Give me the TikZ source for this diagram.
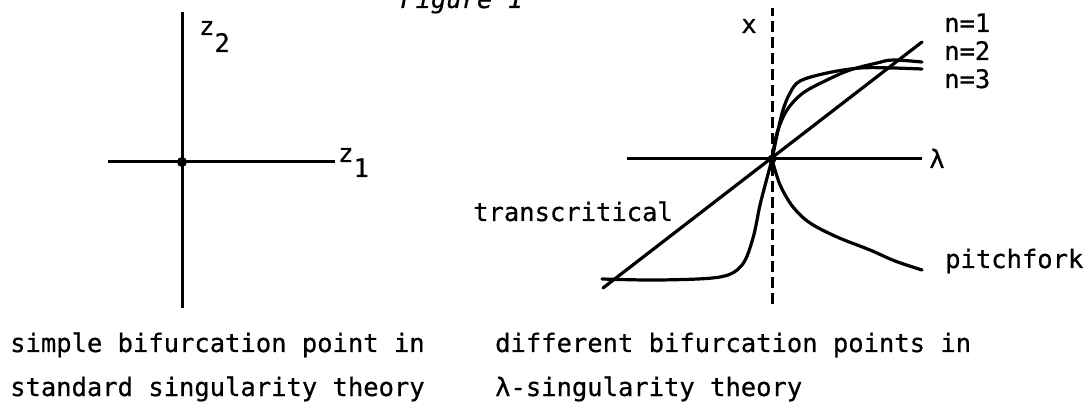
\documentclass[tikz,border=0pt]{standalone}
\usepackage{fontspec}
\newfontfamily\tw[FakeBold=0.6]{DejaVu Sans Mono}
\begin{document}
\begin{tikzpicture}[x=1pt,y=-1pt,
  ax/.style={line width=3pt},
  crv/.style={line width=3.2pt, line cap=round, line join=round},
  lbl/.style={font=\tw\fontsize{25.5}{30}\selectfont, inner sep=0pt},
  ]
\path[use as bounding box] (0,0) rectangle (1087,403);
\clip (0,0) rectangle (1087,403);
\node[lbl, anchor=base west, font=\tw\itshape\fontsize{25.5}{30}\selectfont] (fig) at (400,8) {Figure 1};
% left diagram
\coordinate (O1) at (182,162);
\coordinate (vt) at (182,12);
\coordinate (vb) at (182,308);
\coordinate (hl) at (108,162);
\coordinate (hr) at (335,162);
\draw[ax] (vb) -- (vt);
\draw[ax] (hl) -- (hr);
\fill (O1) circle (5);
\node[lbl, anchor=base west] (z2) at (199,35) {z\raisebox{-17pt}{2}};
\node[lbl, anchor=base west] (z1) at (338,162) {z\raisebox{-15pt}{1}};
% right diagram
\coordinate (O2) at (772,159);
\coordinate (dt) at (772,8);
\coordinate (db) at (772,304);
\coordinate (ll) at (627,159);
\coordinate (lr) at (922,159);
\coordinate (ta) at (603,288);
\coordinate (tb) at (922,42);
\draw[ax, dash pattern=on 11pt off 5pt] (db) -- (dt);
\draw[ax] (ll) -- (lr);
\draw[crv] (ta) -- (tb);
\draw[crv] plot[smooth, tension=0.55] coordinates {(602,279) (660,280) (720,277) (742,265) (753,238) (760,205) (767,178) (772,159) (777,135) (783,110) (790,93) (800,81) (827,73) (860,68) (893,68) (922,69)};
\draw[crv] plot[smooth, tension=0.55] coordinates {(772,159) (777,133) (787,110) (803,93) (827,80) (850,70) (877,63) (893,60) (922,62)};
\draw[crv] plot[smooth, tension=0.55] coordinates {(772,159) (775,170) (781,187) (793,207) (810,223) (837,237) (870,250) (895,261) (922,270)};
\fill (O2) circle (4.5);
\node[lbl, anchor=base] (xl) at (749,33) {x};
\node[lbl, anchor=base] (lam) at (937,168) {λ};
\node[lbl, anchor=base west] (n1) at (944,32) {n=1};
\node[lbl, anchor=base west] (n2) at (944,60) {n=2};
\node[lbl, anchor=base west] (n3) at (944,88) {n=3};
\node[lbl, anchor=base east] (tc) at (673,221) {transcritical};
\node[lbl, anchor=base west] (pf) at (945,268) {pitchfork};
% captions
\node[lbl, anchor=base west] (c1) at (10,352) {simple bifurcation point in};
\node[lbl, anchor=base west] (c2) at (10,396) {standard singularity theory};
\node[lbl, anchor=base west] (c3) at (495,352) {different bifurcation points in};
\node[lbl, anchor=base west] (c4) at (495,396) {λ-singularity theory};
\end{tikzpicture}
\end{document}
